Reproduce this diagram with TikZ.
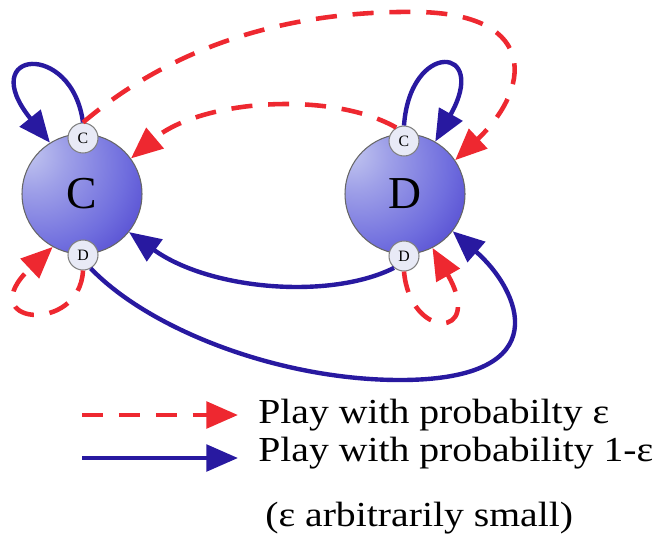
\documentclass[tikz,border=0pt]{standalone}
\usepackage{fontspec}
\setmainfont{Liberation Serif}
\newfontfamily\legendfont[FakeStretch=1.13]{Liberation Serif}
\usetikzlibrary{arrows.meta}
\definecolor{epsred}{RGB}{238,40,48}
\definecolor{epsblue}{RGB}{40,25,160}
\definecolor{ballLight}{RGB}{196,200,240}
\definecolor{ballMid}{RGB}{112,110,222}
\definecolor{ballDark}{RGB}{48,30,192}
\definecolor{portfill}{RGB}{232,234,246}
\pgfdeclareradialshading{stateball}{\pgfpoint{-24bp}{18bp}}{color(0bp)=(ballLight); color(14bp)=(ballLight!55!ballMid); color(34bp)=(ballMid); color(62bp)=(ballDark); color(100bp)=(ballDark)}
\begin{document}
\begin{tikzpicture}[x=0.02cm,y=-0.02cm,
	state/.style={circle,minimum size=2.4cm,inner sep=0pt,shading=stateball,draw=black!60,line width=0.6pt,font=\fontsize{26}{30}\selectfont},
	port/.style={circle,minimum size=0.6cm,inner sep=0pt,fill=portfill,draw=black!50,line width=0.6pt,font=\fontsize{9}{10}\selectfont},
	tip/.style={-{Triangle[length=18pt,width=15pt]}},
	rare/.style={tip,draw=epsred,line width=2.6pt,dash pattern=on 12pt off 9pt},
	usual/.style={tip,draw=epsblue,line width=2.5pt},
	legend/.style={anchor=base west,inner sep=0pt,font=\legendfont\fontsize{20}{24}\selectfont}]
	\useasboundingbox (0,0) rectangle (655,535);
	% the two states and their ports
	\node[state] (C) at (82,194) {C};
	\node[state] (D) at (405,194) {D};
	\node[port] (Cc) at (83,138) {C};
	\node[port] (Cd) at (83,255) {D};
	\node[port] (Dc) at (404,141) {C};
	\node[port] (Dd) at (404,256) {D};
	% probability 1-eps
	\draw[usual] (Cc.north) .. controls (72,40) and (-25,50) .. (C.122);
	\draw[usual] (Dc.north) .. controls (410,40) and (490,45) .. (D.60);
	\draw[usual] (Dd.230) .. controls (330,300) and (210,290) .. (C.321);
	\draw[usual] (Cd.300) .. controls (150,330) and (280,380) .. (400,380) .. controls (560,380) and (520,290) .. (D.322);
	% probability eps
	\draw[rare] (Cc.north) .. controls (180,40) and (300,10) .. (420,12) .. controls (540,15) and (530,90) .. (D.34);
	\draw[rare] (Dc.120) .. controls (330,90) and (200,100) .. (C.36);
	\draw[rare] (Cd.south) .. controls (80,335) and (-30,325) .. (C.241);
	\draw[rare] (Dd.south) .. controls (410,340) and (485,340) .. (D.297);
	% legend
	\coordinate (r0) at (82,415);
	\coordinate (r1) at (238,415);
	\coordinate (b0) at (82,458);
	\coordinate (b1) at (238,458);
	\draw[rare] (r0) -- (r1);
	\draw[usual] (b0) -- (b1);
	\node[legend] (l1) at (258,423) {Play with probabilty ε};
	\node[legend] (l2) at (258,461) {Play with probability 1-ε};
	\node[legend] (l3) at (265,526) {(ε arbitrarily small)};
\end{tikzpicture}
\end{document}
